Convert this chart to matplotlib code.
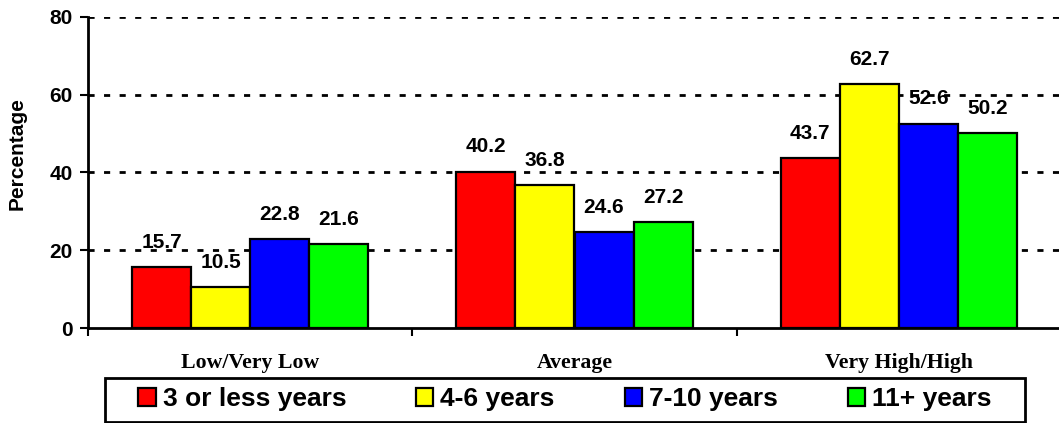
import matplotlib
matplotlib.use("Agg")
import matplotlib.pyplot as plt
import numpy as np
from matplotlib.patches import Rectangle, Patch

categories = ["Low/Very Low", "Average", "Very High/High"]
series_names = ["3 or less years", "4-6 years", "7-10 years", "11+ years"]
values = {
    "3 or less years": [15.7, 40.2, 43.7],
    "4-6 years": [10.5, 36.8, 62.7],
    "7-10 years": [22.8, 24.6, 52.6],
    "11+ years": [21.6, 27.2, 50.2],
}
colors = ["#FF0000", "#FFFF00", "#0000FF", "#00FF00"]
yticks = [0, 20, 40, 60, 80]

W, H = 1059, 423
fig = plt.figure(figsize=(W / 100, H / 100), dpi=100)
ax = fig.add_axes([88 / W, (H - 328) / H, 973 / W, 311 / H])

sans = "Liberation Sans"
serif = "Liberation Serif"

x = np.arange(len(categories))
bw = 0.182
for i, name in enumerate(series_names):
    xs = x + (i - 1.5) * bw
    bars = ax.bar(xs, values[name], width=bw, color=colors[i], edgecolor="black",
                  linewidth=1.6, zorder=3, label=name)
    for b, v in zip(bars, values[name]):
        ax.annotate(f"{v:.1f}", (b.get_x() + b.get_width() / 2, v),
                    xytext=(0, 11), textcoords="offset points", ha="center", va="bottom",
                    fontsize=15, fontweight="bold", family=sans, zorder=1)

ax.set_xlim(-0.5, 2.5)
ax.set_ylim(0, 80)
ax.set_yticks(yticks)
ax.set_yticklabels([str(t) for t in yticks], fontsize=15, fontweight="bold", family=sans)
for t in yticks[1:]:
    ax.axhline(t, color="black", linestyle=(0, (2.2, 3.4)), linewidth=2.0, zorder=2)

ax.set_xticks([-0.5, 0.5, 1.5, 2.5])
ax.set_xticklabels([])
ax.set_xticks(x, minor=True)
ax.set_xticklabels(categories, minor=True, fontsize=15.7, fontweight="bold", family=serif)
ax.tick_params(axis="x", which="minor", length=0, pad=18)
ax.tick_params(axis="x", which="major", direction="out", length=6, width=1.5)
ax.tick_params(axis="y", direction="out", length=6, width=1.5, pad=5)

for s in ["top", "right"]:
    ax.spines[s].set_visible(False)
ax.spines["left"].set_linewidth(2)
ax.spines["bottom"].set_linewidth(2)

fig.text(17 / W, 1 - 154 / H, "Percentage", rotation=90, ha="center", va="center",
         fontsize=15, fontweight="bold", family=sans)

# legend frame
fig.patches.append(Rectangle((105 / W, 1 - 422 / H), 920 / W, 44 / H, transform=fig.transFigure,
                             facecolor="white", edgecolor="black", linewidth=2, zorder=0))
handles = [Patch(facecolor=c, edgecolor="black", linewidth=1.6) for c in colors]
leg = fig.legend(handles, series_names, loc="center",
                 bbox_to_anchor=(565 / W, 1 - 399 / H), ncol=4, frameon=False,
                 prop={"family": sans, "weight": "bold", "size": 19},
                 handlelength=0.65, handleheight=0.68, handletextpad=0.27, columnspacing=2.65)

fig.savefig("out.png", dpi=100)
